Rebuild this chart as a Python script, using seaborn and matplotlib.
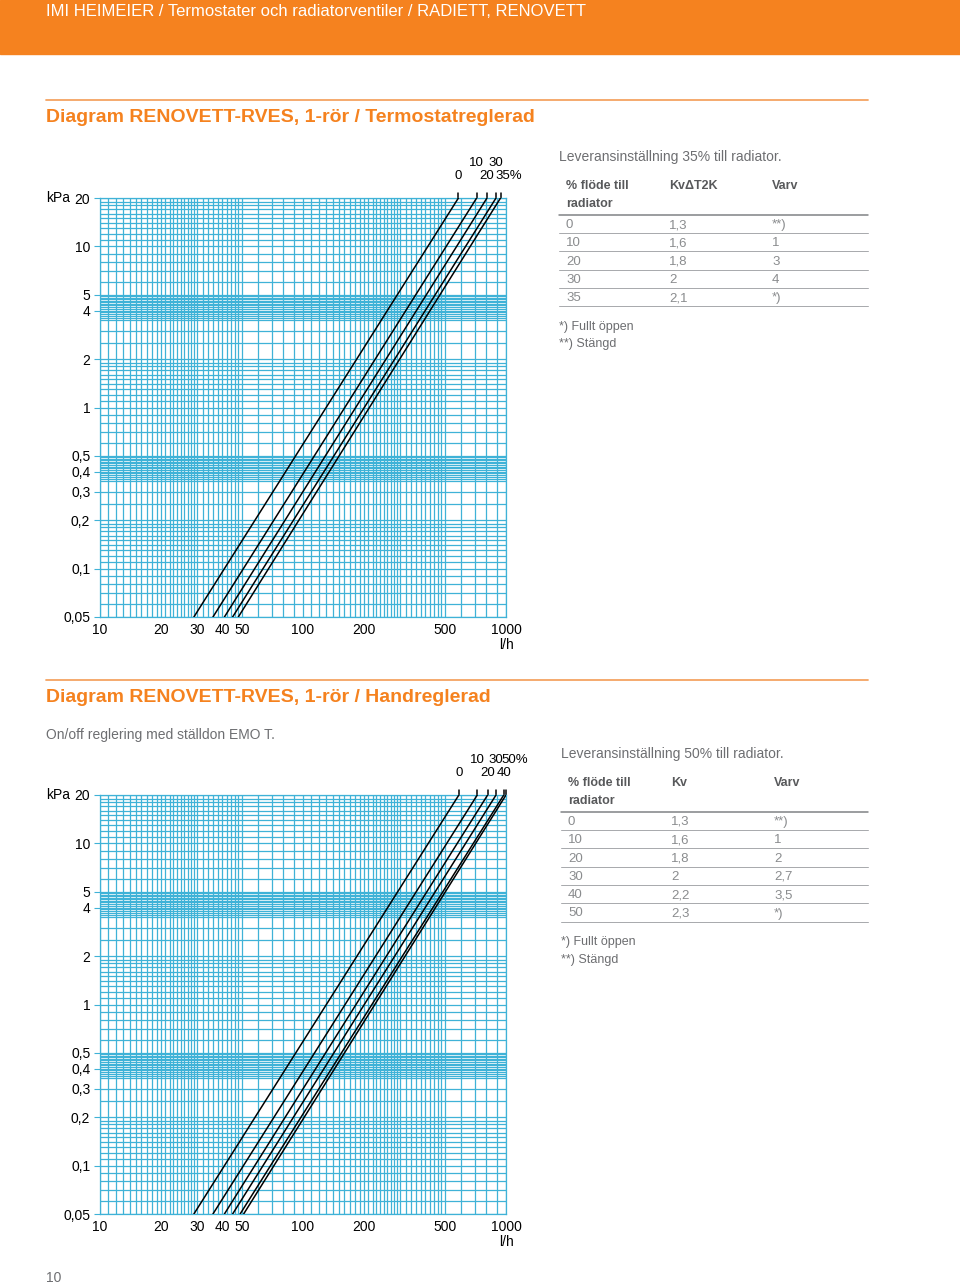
import numpy as np
import pandas as pd
import seaborn as sns
import matplotlib.pyplot as plt
from matplotlib.lines import Line2D
from matplotlib.patches import Rectangle
from matplotlib.ticker import NullFormatter

sns.set_theme(style='white')
plt.rcParams['font.family'] = ['Liberation Sans', 'DejaVu Sans']

# Diagram 1 - termostatreglerad
setting1 = [0, 10, 20, 30, 35]
kv1 = ['1,3', '1,6', '1,8', '2', '2,1']
varv1 = ['**)', '1', '3', '4', '*)']
q_low1 = [29, 36, 41, 45, 48]          # l/h vid 0,05 kPa
q_high1 = [583, 717, 806, 893, 940]    # l/h vid 20 kPa

# Diagram 2 - handreglerad
setting2 = [0, 10, 20, 30, 40, 50]
kv2 = ['1,3', '1,6', '1,8', '2', '2,2', '2,3']
varv2 = ['**)', '1', '2', '2,7', '3,5', '*)']
q_low2 = [29, 36, 41, 45, 49, 51]
q_high2 = [586, 722, 812, 893, 975, 1000]

dp_min, dp_max = 0.05, 20
y_ticks = [20, 10, 5, 4, 2, 1, 0.5, 0.4, 0.3, 0.2, 0.1, 0.05]
y_labels = ['20', '10', '5', '4', '2', '1', '0,5', '0,4', '0,3', '0,2', '0,1', '0,05']
x_ticks = [10, 20, 30, 40, 50, 100, 200, 500, 1000]
x_labels = ['10', '20', '30', '40', '50', '100', '200', '500', '1000']

ORANGE = '#F5821F'
CYAN = '#3fb2d7'
W, H = 960, 1286


def fx(x):
    return x / W


def fy(y):
    return 1 - y / H


def decade(d):
    return np.concatenate([np.arange(1.0, 2.0, 0.1), [2.0, 2.5, 3.0],
                           np.arange(3.5, 5.0, 0.1), np.arange(5, 10, 1)]) * d


x_grid = np.concatenate([np.arange(10, 30, 1), np.arange(30, 50, 2), np.arange(50, 100, 10),
                         np.arange(100, 300, 10), np.arange(300, 500, 20), np.arange(500, 1001, 100)])
y_grid = np.concatenate([[0.05, 0.06, 0.07, 0.08, 0.09], decade(0.1), decade(1), np.arange(10, 21, 1)])


def draw_chart(ax, settings, q_low, q_high):
    names = [str(s) for s in settings]
    df = pd.DataFrame({
        'flow': q_low + q_high,
        'dp': [dp_min] * len(q_low) + [dp_max] * len(q_high),
        'setting': names + names,
    })
    ax.set_xscale('log')
    ax.set_yscale('log')
    sns.lineplot(data=df, x='flow', y='dp', hue='setting', palette={n: 'black' for n in names},
                 estimator=None, sort=False, legend=False, lw=1.1, ax=ax, zorder=3)
    ax.set_xlim(10, 1000)
    ax.set_ylim(dp_min, dp_max)
    ax.set_xticks(x_grid, minor=True)
    ax.set_yticks(y_grid, minor=True)
    ax.set_xticks(x_ticks)
    ax.set_xticklabels(x_labels)
    ax.set_yticks(y_ticks)
    ax.set_yticklabels(y_labels)
    ax.xaxis.set_minor_formatter(NullFormatter())
    ax.yaxis.set_minor_formatter(NullFormatter())
    ax.grid(True, which='both', color=CYAN, lw=0.9)
    ax.tick_params(which='minor', length=0)
    ax.tick_params(axis='x', which='major', length=0, pad=4, labelsize=10, labelcolor='black')
    ax.tick_params(axis='y', which='major', length=4, width=0.8, color=CYAN, left=True,
                   pad=3, labelsize=10, labelcolor='black')
    for sp in ax.spines.values():
        sp.set_color(CYAN)
        sp.set_linewidth(0.9)
    ax.set_xlabel('')
    ax.set_ylabel('')
    last = len(settings) - 1
    for i, (s, q) in enumerate(zip(settings, q_high)):
        ax.plot([q, q], [dp_max, dp_max * 1.07], color='black', lw=1.1, clip_on=False)
        txt = f'{s}%' if i == last else str(s)
        dy = 35 if i % 2 else 22
        ax.annotate(txt, xy=(q, dp_max), xytext=(-5 if i == last else 0, dy),
                    textcoords='offset pixels', ha='left' if i == last else 'center',
                    va='center', fontsize=9.5, color='black', annotation_clip=False)


def draw_table(fig, x0, y0, title, col2, settings, kv, varv):
    fig.text(fx(x0), fy(y0), title, fontsize=10, color='#6d6e71', va='center')
    cx = [x0 + 7, x0 + 110, x0 + 213]
    fig.text(fx(cx[0]), fy(y0 + 29), '% flöde till', fontsize=9, weight='bold', color='#58595b', va='center')
    fig.text(fx(cx[0]), fy(y0 + 47), 'radiator', fontsize=9, weight='bold', color='#58595b', va='center')
    fig.text(fx(cx[1]), fy(y0 + 29), col2, fontsize=9, weight='bold', color='#58595b', va='center')
    fig.text(fx(cx[2]), fy(y0 + 29), 'Varv', fontsize=9, weight='bold', color='#58595b', va='center')
    fig.add_artist(Line2D([fx(x0), fx(868)], [fy(y0 + 58)] * 2, color='#808285', lw=1.1))
    for i, (s, k, v) in enumerate(zip(settings, kv, varv)):
        yc = y0 + 68 + 18.3 * i
        for x, t in zip(cx, [str(s), k, v]):
            fig.text(fx(x), fy(yc), t, fontsize=9.5, color='#8a8c8e', va='center')
        fig.add_artist(Line2D([fx(x0), fx(868)], [fy(yc + 8)] * 2, color='#a7a9ac', lw=0.7))
    yl = y0 + 76 + 18.3 * (len(settings) - 1)
    fig.text(fx(x0), fy(yl + 21), '*) Fullt öppen', fontsize=9, color='#6d6e71', va='center')
    fig.text(fx(x0), fy(yl + 38), '**) Stängd', fontsize=9, color='#6d6e71', va='center')


fig = plt.figure(figsize=(9.6, 12.86), dpi=100)

# sidhuvud
fig.add_artist(Rectangle((0, fy(54)), 1, 54 / H, transform=fig.transFigure, color=ORANGE, zorder=0))
fig.text(fx(46), fy(12), 'IMI HEIMEIER / Termostater och radiatorventiler / RADIETT, RENOVETT',
         color='white', fontsize=12, va='center')

# diagram 1
fig.add_artist(Line2D([fx(46), fx(868)], [fy(100)] * 2, color='#F5A462', lw=1.3))
fig.text(fx(46), fy(118), 'Diagram RENOVETT-RVES, 1-rör / Termostatreglerad',
         fontsize=14, weight='bold', color=ORANGE, va='center')
ax1 = fig.add_axes([fx(100), fy(617), 406 / W, 419 / H])
draw_chart(ax1, setting1, q_low1, q_high1)
fig.text(fx(46), fy(198), 'kPa', fontsize=10, color='black', va='center')
fig.text(fx(506), fy(645), 'l/h', fontsize=10, color='black', va='center', ha='center')
draw_table(fig, 559, 157, 'Leveransinställning 35% till radiator.', 'KvΔT2K', setting1, kv1, varv1)

# diagram 2
fig.add_artist(Line2D([fx(46), fx(868)], [fy(680)] * 2, color='#F5A462', lw=1.3))
fig.text(fx(46), fy(697), 'Diagram RENOVETT-RVES, 1-rör / Handreglerad',
         fontsize=14, weight='bold', color=ORANGE, va='center')
fig.text(fx(46), fy(735), 'On/off reglering med ställdon EMO T.', fontsize=10, color='#6d6e71', va='center')
ax2 = fig.add_axes([fx(100), fy(1214), 406 / W, 419 / H])
draw_chart(ax2, setting2, q_low2, q_high2)
fig.text(fx(46), fy(795), 'kPa', fontsize=10, color='black', va='center')
fig.text(fx(506), fy(1242), 'l/h', fontsize=10, color='black', va='center', ha='center')
draw_table(fig, 561, 754, 'Leveransinställning 50% till radiator.', 'Kv', setting2, kv2, varv2)

fig.text(fx(46), fy(1278), '10', fontsize=10, color='#6d6e71', va='center')

fig.savefig('out.png', dpi=100)
